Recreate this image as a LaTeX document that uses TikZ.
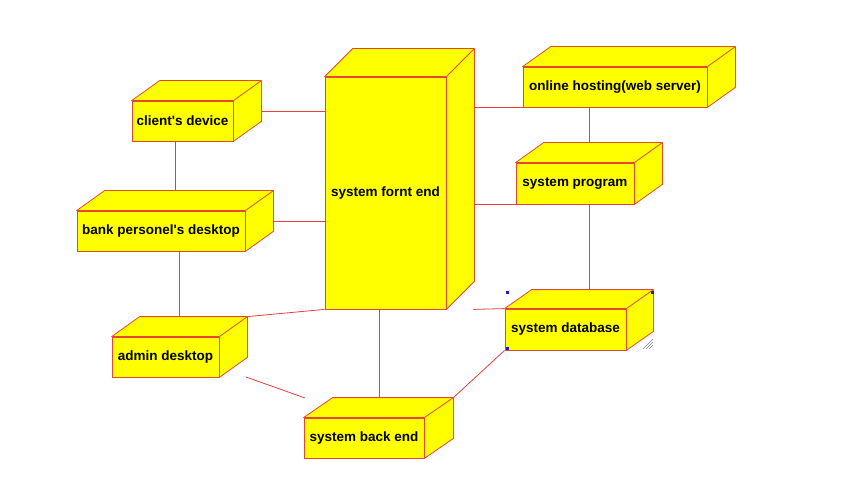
\documentclass[tikz,border=0pt]{standalone}
\usepackage{fontspec}
\setmainfont{Liberation Sans}
\usetikzlibrary{calc}

\definecolor{devred}{RGB}{228,72,52}
\definecolor{linkred}{RGB}{232,62,62}
\definecolor{devyellow}{RGB}{255,255,0}
\definecolor{handleblue}{RGB}{25,25,210}

\newcommand{\devcube}[3]{%
    \draw [devface] (#1.north west) -- ++(#2,#3) -- ($(#1.north east)+(#2,#3)$) -- ($(#1.south east)+(#2,#3)$) -- (#1.south east) -- (#1.north east) -- cycle;
    \draw [devface] (#1.north east) -- ++(#2,#3);}

\begin{document}
\begin{tikzpicture}[x=1pt, y=-1pt,
    device/.style={draw=devred, fill=devyellow, inner sep=0pt, line width=0.8pt, font=\fontsize{13.5}{16}\selectfont\bfseries},
    devface/.style={draw=devred, fill=devyellow, line width=0.8pt, line join=round},
    link/.style={draw=linkred, line width=0.8pt}]
    \useasboundingbox (0,0) rectangle (863,492);

    \node [device, minimum width=101pt, minimum height=40pt] (client) at (182.5,121) {client\textquotesingle s device};
    \node [device, minimum width=168pt, minimum height=40pt] (bank) at (161,231) {bank personel\textquotesingle s desktop};
    \node [device, minimum width=107pt, minimum height=40pt] (admin) at (165.5,357) {admin desktop};
    \node [device, minimum width=121pt, minimum height=232pt] (front) at (385.5,193) {system fornt end};
    \node [device, minimum width=184pt, minimum height=40pt] (host) at (615,87) {online hosting(web server)};
    \node [device, minimum width=118pt, minimum height=41pt] (prog) at (575,183.5) {system program};
    \node [device, minimum width=121pt, minimum height=41pt] (db) at (565.5,329.5) {system database};
    \node [device, minimum width=120pt, minimum height=40pt] (back) at (364,438) {system back end};

    \devcube{client}{28}{-20}
    \devcube{bank}{28}{-20}
    \devcube{admin}{28}{-20}
    \devcube{front}{28}{-28}
    \devcube{host}{28}{-20}
    \devcube{prog}{28}{-20}
    \devcube{db}{27}{-19}
    \devcube{back}{29}{-20}

    \coordinate (clientR) at ($(client.east)+(28,-10)$);
    \coordinate (clientB) at ($(client.south)+(-7.5,0)$);
    \coordinate (bankR) at ($(bank.east)+(28,-10)$);
    \coordinate (bankT) at ($(bank.north)+(0,-20)$);
    \coordinate (bankB) at ($(bank.south)+(18,0)$);
    \coordinate (adminT) at ($(admin.north)+(0,-20)$);
    \coordinate (frontR) at ($(front.east)+(28,0)$);
    \coordinate (frontB) at ($(front.south)+(-6.5,0)$);
    \coordinate (backT) at ($(back.north)+(0,-20)$);
    \coordinate (hostB) at ($(host.south)+(-26,0)$);
    \coordinate (progT) at ($(prog.north)+(0,-20)$);
    \coordinate (progB) at ($(prog.south)+(14,0)$);
    \coordinate (dbT) at ($(db.north)+(0,-19)$);
    \coordinate (strayA) at (246,377);
    \coordinate (strayB) at (305,398);

    \draw [link] (clientR) -- (clientR -| front.west);
    \draw [link] (clientB) -- (clientB |- bankT);
    \draw [link] (bankR) -- (bankR -| front.west);
    \draw [link] (bankB) -- (bankB |- adminT);
    \draw [link] ($(admin.north east)+(28,-20)$) -- (front.south west);
    \draw [link] (frontB) -- (frontB |- backT);
    \draw [link] (strayA) -- (strayB);
    \draw [link] ($(back.north east)+(29,-20)$) -- (db.south west);
    \draw [link] ($(front.south east)+(27,0)$) -- (db.north west);
    \draw [link] (host.south west -| frontR) -- (host.south west);
    \draw [link] (hostB) -- (hostB |- progT);
    \draw [link] (prog.south west -| frontR) -- (prog.south west);
    \draw [link] (progB) -- (progB |- dbT);

    \foreach \hx/\hy in {507/292, 652/292, 507/348}
        \fill [handleblue] (\hx-1.5,\hy-1.5) rectangle ++(3,3);
    \foreach \g in {0,3,6}
        \draw [gray, line width=0.5pt] (643+\g,349) -- (653,339+\g);
\end{tikzpicture}
\end{document}
